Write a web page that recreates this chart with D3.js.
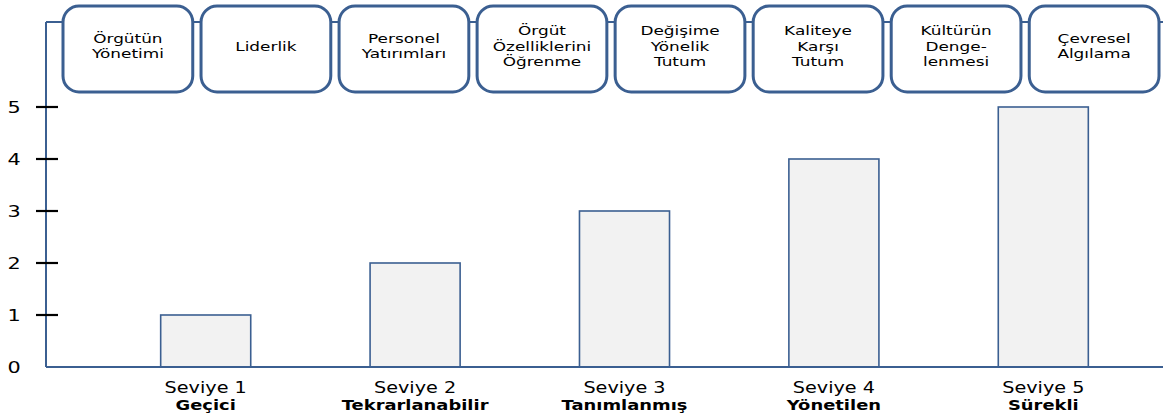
<!DOCTYPE html>
<html>
<head>
<meta charset="utf-8">
<script src="https://cdn.jsdelivr.net/npm/d3@7"></script>
<style>
  html, body { margin: 0; padding: 0; background: #fff; }
  svg { display: block; font-family: "DejaVu Sans", Verdana, sans-serif; }
</style>
</head>
<body>
<svg id="chart" width="1163" height="417"></svg>
<script>
// ---- data ----
const categories = ["Seviye 1", "Seviye 2", "Seviye 3", "Seviye 4", "Seviye 5"];
const levelNames = ["Geçici", "Tekrarlanabilir", "Tanımlanmış", "Yönetilen", "Sürekli"];
const values = [1, 2, 3, 4, 5];
const yTicks = [0, 1, 2, 3, 4, 5];
const boxLabels = [
  ["Örgütün", "Yönetimi"],
  ["Liderlik"],
  ["Personel", "Yatırımları"],
  ["Örgüt", "Özelliklerini", "Öğrenme"],
  ["Değişime", "Yönelik", "Tutum"],
  ["Kaliteye", "Karşı", "Tutum"],
  ["Kültürün", "Denge-", "lenmesi"],
  ["Çevresel", "Algılama"]
];

// ---- layout ----
const W = 1163, H = 417;
const axisX = 46, axisY0 = 367, axisTop = 22;
const blue = "#3B5F91";
const svg = d3.select("#chart");

const x = d3.scaleBand().domain(categories).range([101, 1148]).paddingInner(0.57).paddingOuter(0.285);
const y = d3.scaleLinear().domain([0, 5]).range([axisY0, 107]);
const bx = d3.scaleBand().domain(d3.range(boxLabels.length)).range([63, 1159]).paddingInner(0.06).paddingOuter(0);

function stretchText(g, tx, ty, str, size, sx, weight, anchor) {
  return g.append("text")
    .attr("transform", `translate(${tx},${ty}) scale(${sx},1)`)
    .attr("text-anchor", anchor || "middle")
    .attr("font-size", size)
    .attr("font-weight", weight || "normal")
    .attr("fill", "#000")
    .text(str);
}

// top connector line and axes
svg.append("line").attr("x1", axisX).attr("x2", W).attr("y1", axisTop).attr("y2", axisTop)
  .attr("stroke", blue).attr("stroke-width", 2);
svg.append("line").attr("x1", axisX).attr("x2", axisX).attr("y1", axisTop).attr("y2", axisY0)
  .attr("stroke", blue).attr("stroke-width", 2);

// bars
svg.append("g").selectAll("rect").data(values).join("rect")
  .attr("x", (d, i) => x(categories[i]))
  .attr("y", d => y(d))
  .attr("width", x.bandwidth())
  .attr("height", d => y(0) - y(d))
  .attr("fill", "#F2F2F2")
  .attr("stroke", blue)
  .attr("stroke-width", 1.6);

// x axis line
svg.append("line").attr("x1", axisX).attr("x2", W).attr("y1", axisY0).attr("y2", axisY0)
  .attr("stroke", blue).attr("stroke-width", 2);

// y ticks
const yt = svg.append("g");
yTicks.forEach(t => {
  if (t > 0) {
    yt.append("line").attr("x1", axisX - 10).attr("x2", axisX + 12)
      .attr("y1", y(t)).attr("y2", y(t)).attr("stroke", "#000").attr("stroke-width", 2.2);
  }
  stretchText(yt, 14, y(t) + 6, String(t), 16, 1.3, "normal");
});

// x labels
const xl = svg.append("g");
categories.forEach((c, i) => {
  const cx = x(c) + x.bandwidth() / 2;
  stretchText(xl, cx, 393, c, 15, 1.28, "normal");
  stretchText(xl, cx, 410, levelNames[i], 14, 1.28, "bold");
});

// boxes
const bg = svg.append("g");
boxLabels.forEach((lines, i) => {
  const x0 = bx(i), w = bx.bandwidth();
  bg.append("rect").attr("x", x0).attr("y", 6).attr("width", w).attr("height", 86)
    .attr("rx", 16).attr("ry", 16)
    .attr("fill", "#fff").attr("stroke", blue).attr("stroke-width", 3);
  const lh = 15.5;
  const startY = 46 - (lines.length - 1) * lh / 2 + 4.5;
  lines.forEach((ln, j) => {
    stretchText(bg, x0 + w / 2, startY + j * lh, ln, 13, 1.3, "normal");
  });
});
</script>
</body>
</html>
